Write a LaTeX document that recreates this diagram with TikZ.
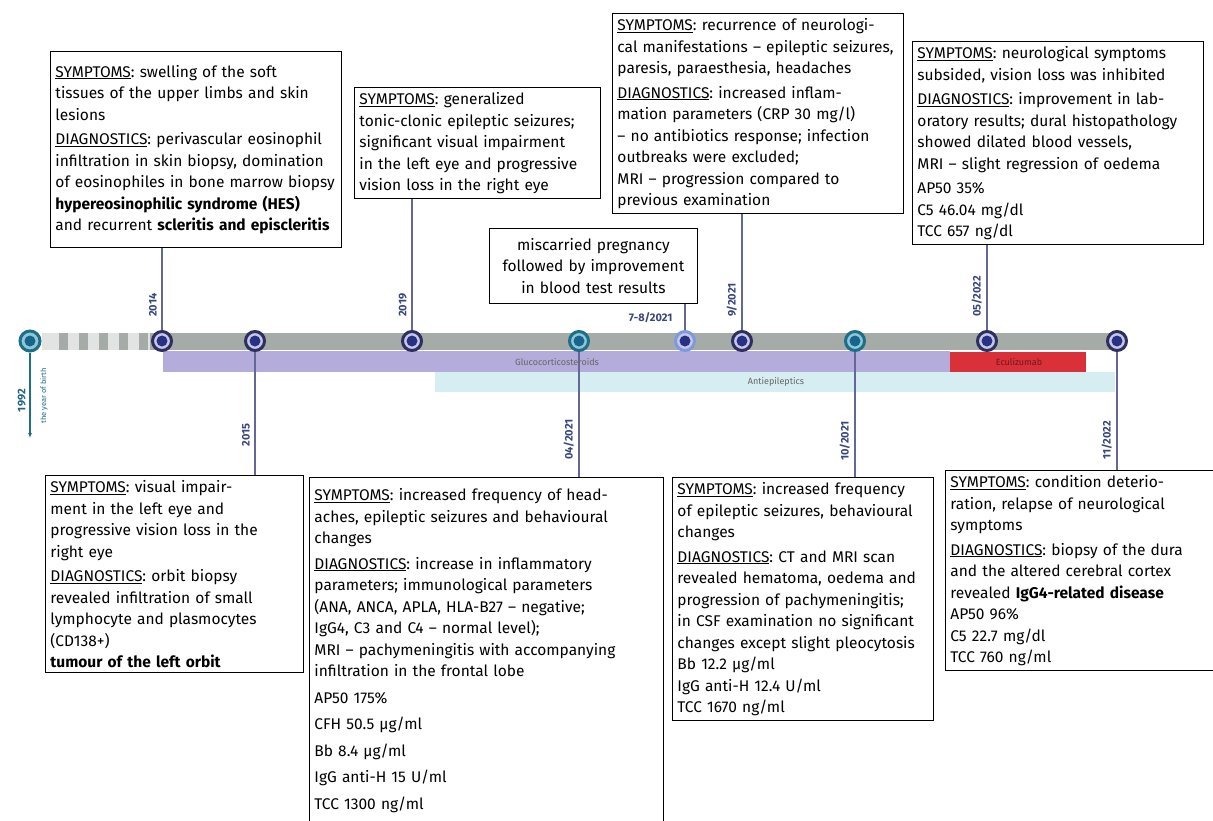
\documentclass[tikz,border=0pt]{standalone}
\usepackage{fontspec}
\setmainfont{Fira Sans}
\usetikzlibrary{arrows.meta,positioning}
\definecolor{navyring}{RGB}{45,48,95}
\definecolor{dotblue}{RGB}{40,50,130}
\definecolor{ringfill}{RGB}{200,198,232}
\definecolor{tealring}{RGB}{30,110,135}
\definecolor{tealfill}{RGB}{140,200,215}
\definecolor{tealdot}{RGB}{25,100,140}
\definecolor{lightring}{RGB}{125,155,220}
\definecolor{barcol}{RGB}{165,172,168}
\definecolor{barlight}{RGB}{225,228,226}
\definecolor{gluco}{RGB}{180,172,218}
\definecolor{ecu}{RGB}{218,48,58}
\definecolor{antiep}{RGB}{214,237,241}
\definecolor{stemcol}{RGB}{100,104,150}
\definecolor{labelcol}{RGB}{55,70,125}
\newcommand{\symp}{\underline{SYMPTOMS}}
\newcommand{\diagn}{\underline{DIAGNOSTICS}}
\frenchspacing

\begin{document}
\begin{tikzpicture}[x=1pt,y=-1pt,
  card/.style={draw,line width=0.9pt,anchor=north west,align=left,inner xsep=5pt,inner ysep=5pt,
    font=\fontsize{15.5}{21.5}\selectfont},
  mile/.style={circle,draw=navyring,line width=3pt,fill=ringfill,minimum size=19pt,inner sep=0pt,
    path picture={\fill[dotblue] (path picture bounding box.center) circle (5.5pt);}},
  mileteal/.style={mile,draw=tealring,fill=tealfill,
    path picture={\fill[tealdot] (path picture bounding box.center) circle (5.5pt);}},
  milelight/.style={mile,draw=lightring},
  stem/.style={stemcol,line width=2pt},
  yr/.style={rotate=90,font=\bfseries\fontsize{11}{12}\selectfont,text=labelcol,inner sep=1pt},
  barlbl/.style={font=\fontsize{9}{10}\selectfont,text=black!60}]
  \useasboundingbox (0,0) rectangle (1213,820);

  % therapy bars
  \fill[barlight] (42,333) rectangle (150,350);
  \foreach \x in {59,79,...,139} \fill[barcol] (\x,333) rectangle ++(9,17);
  \fill[barcol] (150,333) rectangle (1110,350);
  \fill[gluco] (163,351) rectangle (950,372);
  \fill[ecu] (950,352) rectangle (1086,372);
  \fill[antiep] (435,372) rectangle (1115,392);
  \node[barlbl] (gc) at (557,362) {Glucocorticosteroids};
  \node[barlbl] (ae) at (776,382) {Antiepileptics};
  \node[barlbl,text=ecu!50!black] (ec) at (1019,362) {Eculizumab};

  % boxes above
  \node[card,text width=281pt,minimum height=196pt] (A) at (50,51) {\symp: swelling of the soft\\ tissues of the upper limbs and skin\\ lesions\\[3pt]
    \diagn: perivascular eosinophil\\ infiltration in skin biopsy, domination\\ of eosinophiles in bone marrow biopsy\\
    \textbf{hypereosinophilic syndrome (HES)}\\ and recurrent \textbf{scleritis and episcleritis}};
  \node[card,text width=236pt] (B) at (354,87) {\symp: generalized\\ tonic-clonic epileptic seizures;\\ significant visual impairment\\ in the left eye and progressive\\ vision loss in the right eye};
  \node[card,text width=281pt] (C) at (612,13) {\symp: recurrence of neurologi-\\ cal manifestations – epileptic seizures,\\ paresis, paraesthesia, headaches\\[3pt]
    \diagn: increased inflam-\\ mation parameters (CRP 30 mg/l)\\ – no antibiotics response; infection\\ outbreaks were excluded;\\ MRI – progression compared to\\ previous examination};
  \node[card,align=center,text width=198pt,minimum height=75pt] (D) at (489,228) {miscarried pregnancy\\ followed by improvement\\ in blood test results};
  \node[card,text width=281pt] (F) at (912,41) {\symp: neurological symptoms\\ subsided, vision loss was inhibited\\[3pt]
    \diagn: improvement in lab-\\ oratory results; dural histopathology\\ showed dilated blood vessels,\\ MRI – slight regression of oedema\\[3pt]
    AP50 35\%\\ C5 46.04 mg/dl\\ TCC 657 ng/dl};

  % boxes below
  \node[card,text width=248pt] (G) at (45,475) {\symp: visual impair-\\ ment in the left eye and\\ progressive vision loss in the\\ right eye\\[3pt]
    \diagn: orbit biopsy\\ revealed infiltration of small\\ lymphocyte and plasmocytes\\ (CD138+)\\ \textbf{tumour of the left orbit}};
  \node[card,text width=344pt,minimum height=346pt] (H) at (309,477) {\symp: increased frequency of head-\\ aches, epileptic seizures and behavioural\\ changes\\[4pt]
    \diagn: increase in inflammatory\\ parameters; immunological parameters\\ (ANA, ANCA, APLA, HLA-B27 – negative;\\ IgG4, C3 and C4 – normal level);\\ MRI – pachymeningitis with accompanying\\ infiltration in the frontal lobe\\[5pt]
    AP50 175\%\\[5pt] CFH 50.5 µg/ml\\[5pt] Bb 8.4 µg/ml\\[5pt] IgG anti-H 15 U/ml\\[5pt] TCC 1300 ng/ml};
  \node[card,text width=251pt] (E) at (672,477) {\symp: increased frequency\\ of epileptic seizures, behavioural\\ changes\\[3pt]
    \diagn: CT and MRI scan\\ revealed hematoma, oedema and\\ progression of pachymeningitis;\\ in CSF examination no significant\\ changes except slight pleocytosis\\
    Bb 12.2 µg/ml\\ IgG anti-H 12.4 U/ml\\ TCC 1670 ng/ml};
  \node[card,text width=270pt] (I) at (945,470) {\symp: condition deterio-\\ ration, relapse of neurological\\ symptoms\\[3pt]
    \diagn: biopsy of the dura\\ and the altered cerebral cortex\\ revealed \textbf{IgG4-related disease}\\
    AP50 96\%\\ C5 22.7 mg/dl\\ TCC 760 ng/ml};

  % milestones
  \coordinate (birth) at (30,438);
  \node[mileteal,minimum size=20pt] (m1992) at (30,341) {};
  \node[mile] (m2014) at (162,341) {};
  \node[mile] (m2015) at (255,341) {};
  \node[mile] (m2019) at (412,341) {};
  \node[mileteal] (m0421) at (579,341) {};
  \node[milelight] (m0721) at (685,341) {};
  \node[mile] (m0921) at (742,341) {};
  \node[mileteal] (m1021) at (855,341) {};
  \node[mile] (m0522) at (987,341) {};
  \node[mile] (m1122) at (1117,341) {};

  \draw[tealring,line width=2pt,-{Latex[length=5pt,width=4pt]}] (m1992) -- (birth);
  \draw[stem] (m2014) -- (m2014 |- A.south);
  \draw[stem] (m2015) -- (m2015 |- G.north);
  \draw[stem] (m2019) -- (m2019 |- B.south);
  \draw[stem] (m0421) -- (m0421 |- H.north);
  \draw[stem] (m0721) -- (m0721 |- D.south);
  \draw[stem] (m0921) -- (m0921 |- C.south);
  \draw[stem] (m1021) -- (m1021 |- E.north);
  \draw[stem] (m0522) -- (m0522 |- F.south);
  \draw[stem] (m1122) -- (m1122 |- I.north);

  % dates
  \node[yr,anchor=south east,text=tealring!70!labelcol] (y1992) at (27,388) {1992};
  \node[yr,anchor=north east,font=\fontsize{7.5}{8}\selectfont,text=tealring] (ybirth) at (39,367) {the year of birth};
  \node[yr,anchor=south west] (y2014) at (158,318) {2014};
  \node[yr,anchor=south east] (y2015) at (251,422) {2015};
  \node[yr,anchor=south west] (y2019) at (408,318) {2019};
  \node[yr,anchor=south east] (y0421) at (575,418) {04/2021};
  \node[font=\bfseries\fontsize{11}{12}\selectfont,text=labelcol,anchor=east] (y0721) at (676,318) {7-8/2021};
  \node[yr,anchor=south west] (y0921) at (738,318) {9/2021};
  \node[yr,anchor=south east] (y1021) at (851,420) {10/2021};
  \node[yr,anchor=south west] (y0522) at (983,318) {05/2022};
  \node[yr,anchor=south east] (y1122) at (1113,420) {11/2022};
\end{tikzpicture}
\end{document}
